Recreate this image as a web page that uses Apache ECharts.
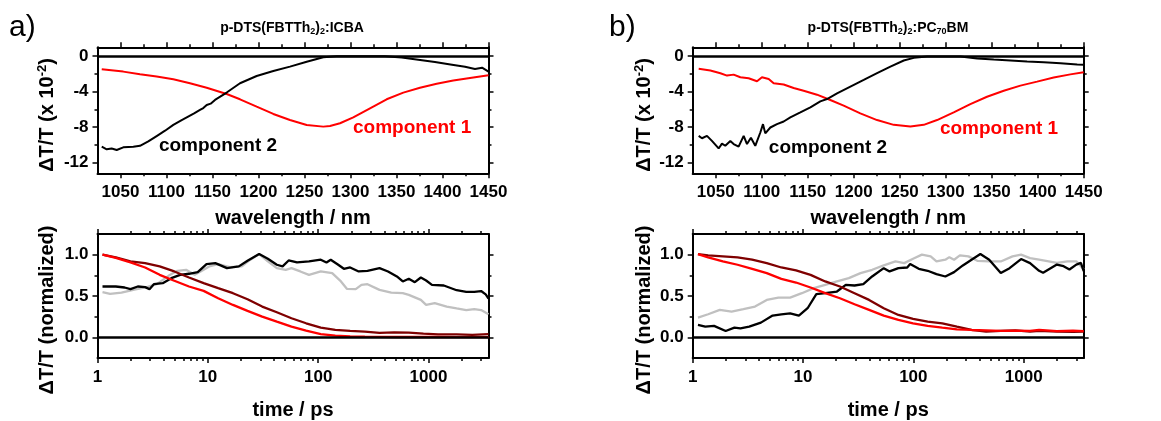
<!DOCTYPE html>
<html><head><meta charset="utf-8">
<script src="https://cdn.jsdelivr.net/npm/echarts@6.0.0/dist/echarts.min.js"></script>
<style>html,body{margin:0;padding:0;background:#fff}#c{width:1161px;height:421px}</style>
</head><body><div id="c"></div>
<script>
// ---------- DATA ----------
// panel a) spectra (wavelength nm, dT/T x 1e-2)
const wlA_comp1 = [1029.6,1053,1071.2,1089.3,1107.4,1125.5,1143.7,1165.4,1179.9,1198,1216.1,1234.2,1252.4,1270.4,1277.7,1288.6,1303,1321.2,1339.3,1357.4,1375.5,1393.7,1411.7,1429.9,1450];
const dA_comp1  = [-1.48,-1.74,-2.04,-2.3,-2.6,-3.05,-3.55,-4.26,-4.86,-5.69,-6.51,-7.19,-7.75,-7.94,-7.86,-7.56,-6.89,-5.87,-4.86,-4.11,-3.55,-3.1,-2.75,-2.45,-2.15];
const wlA_comp2 = [1029.6,1035,1040.4,1045.9,1053,1063.9,1071.2,1080.2,1089.3,1098.4,1107.4,1116.5,1121,1125.5,1130,1136.4,1140,1143.7,1148,1152.7,1165.4,1179.9,1198,1216.1,1234.2,1252.4,1270.4,1285,1301.3,1320,1337.5,1355.7,1373.7,1391.8,1410.3,1424.5,1435.3,1443,1450];
const dA_comp2  = [-10.2,-10.5,-10.4,-10.57,-10.27,-10.2,-10.1,-9.6,-9.0,-8.4,-7.75,-7.2,-6.95,-6.7,-6.45,-6.06,-5.85,-5.5,-5.35,-4.93,-4.1,-3.05,-2.23,-1.67,-1.18,-0.62,-0.13,0,0,0,-0.02,-0.16,-0.4,-0.65,-0.96,-1.2,-1.45,-1.3,-1.75];
// panel b) spectra
const wlB_comp1 = [1031.5,1044.2,1055.1,1062.3,1069.5,1076.8,1085.8,1094.9,1100.3,1107.6,1113,1123.9,1134.7,1145.6,1160.1,1174.6,1189.1,1207.2,1225.4,1243.5,1261.6,1276.1,1290.6,1308.7,1326.8,1344.9,1363.1,1381.2,1399.3,1417.4,1435.5,1450];
const dB_comp1  = [-1.43,-1.62,-1.92,-2.19,-2.08,-2.38,-2.49,-2.83,-2.38,-2.57,-3.06,-3.2,-3.58,-3.89,-4.34,-4.94,-5.58,-6.45,-7.2,-7.74,-7.92,-7.74,-7.2,-6.34,-5.4,-4.57,-3.89,-3.32,-2.87,-2.4,-2.05,-1.8];
const wlB_comp2 = [1031.5,1035.1,1040.5,1045.9,1053.2,1056.8,1060.4,1065.9,1069.5,1074.9,1080.4,1084,1088.3,1093,1098.5,1101.4,1103.9,1109.4,1116.6,1123.9,1131.1,1142,1152.9,1163.7,1171,1181.9,1196.4,1210.9,1225.4,1239.9,1254.4,1265.3,1279.8,1297.9,1316,1334.2,1352.3,1370.4,1388.5,1406.6,1424.8,1442.9,1450];
const dB_comp2  = [-8.98,-9.25,-8.98,-9.55,-10.4,-9.85,-10.1,-9.55,-9.9,-10.2,-8.98,-9.9,-9.2,-10.1,-8.6,-7.66,-8.7,-8.04,-7.66,-7.36,-6.9,-6.34,-5.77,-5.09,-4.83,-4.19,-3.43,-2.68,-1.92,-1.17,-0.49,-0.19,-0.05,-0.05,-0.05,-0.26,-0.38,-0.49,-0.6,-0.68,-0.79,-0.94,-0.98];

// panel a) kinetics (time ps, normalized)
const tA_red = [1.11,1.465,1.99,2.70,3.66,4.97,6.75,9.16,12.4,16.9,22.9,31.1,42.2,57.3,77.8,105.6,143,195,265,360,500,800,1200,1800,2500,3500];
const vA_red = [1.0,0.96,0.906,0.845,0.756,0.684,0.615,0.562,0.473,0.392,0.32,0.251,0.19,0.129,0.081,0.04,0.02,0.012,0.008,0.005,0.004,0.004,0.004,0.003,0.003,0.002];
const tA_dark = [1.11,1.465,1.99,2.7,3.66,4.97,6.75,9.16,12.4,16.9,22.9,31.1,42.2,57.3,77.8,105.6,143,195,265,360,489,663,900,1222,1800,2500,3500];
const vA_dark = [1.0,0.967,0.918,0.898,0.858,0.797,0.724,0.655,0.595,0.534,0.461,0.372,0.303,0.231,0.17,0.117,0.089,0.077,0.069,0.053,0.061,0.057,0.045,0.036,0.035,0.03,0.04];
const tA_black = [1.11,1.465,1.76,1.99,2.32,2.7,2.96,3.24,3.9,4.67,5.61,6.75,8.1,9.73,11.7,14.9,19.1,22.9,29.2,35,42.2,47.6,54,64.3,82.6,105.6,119,130,152,171,195,233,280,360,430,517,585,663,752,853,952,1075,1377,1800,2200,2600,3000,3300,3500];
const vA_black = [0.615,0.615,0.603,0.583,0.615,0.607,0.583,0.643,0.655,0.716,0.756,0.769,0.789,0.886,0.898,0.837,0.858,0.926,1.007,0.951,0.878,0.858,0.93,0.906,0.918,0.939,0.906,0.939,0.878,0.829,0.845,0.797,0.805,0.837,0.797,0.736,0.676,0.708,0.667,0.724,0.688,0.635,0.627,0.57,0.55,0.55,0.56,0.52,0.47];
const tA_grey = [1.11,1.3,1.65,2.11,2.7,3.45,4.4,5.29,6.35,7.6,8.6,10.3,12.4,15.8,20.3,24.3,29.2,35,42.2,50.8,57.3,68.9,82.6,105.6,134,161,182,219,247,280,360,460,585,663,853,952,1140,1463,1800,2200,2600,3000,3500];
const vA_grey = [0.546,0.526,0.542,0.574,0.603,0.643,0.744,0.805,0.817,0.756,0.797,0.858,0.886,0.85,0.858,0.939,1.007,0.918,0.837,0.817,0.837,0.797,0.756,0.797,0.777,0.676,0.587,0.583,0.635,0.643,0.574,0.542,0.534,0.514,0.453,0.392,0.413,0.372,0.35,0.33,0.34,0.33,0.28];

// panel b) kinetics
const tB_red = [1.116,1.38,1.876,2.55,3.46,4.69,6.36,8.64,11.7,15.9,21.6,29.3,39.7,53.9,73.2,99.4,134.8,183,248,337,457,620,842,1142,1380,2000,2800,3500];
const vB_red = [1.007,0.967,0.918,0.878,0.829,0.777,0.708,0.663,0.603,0.534,0.473,0.40,0.332,0.263,0.21,0.17,0.138,0.117,0.097,0.089,0.085,0.077,0.081,0.077,0.089,0.075,0.08,0.075];
const tB_dark = [1.116,1.38,1.876,2.55,3.46,4.69,6.36,8.64,11.7,15.9,21.6,29.3,39.7,53.9,73.2,99.4,134.8,183,248,337,457,620,842,1142,1380,2000,2800,3500];
const vB_dark = [1.007,0.991,0.979,0.967,0.939,0.898,0.845,0.809,0.756,0.676,0.615,0.534,0.453,0.352,0.271,0.222,0.19,0.17,0.129,0.089,0.069,0.077,0.085,0.069,0.077,0.07,0.065,0.07];
const tB_black = [1.116,1.3,1.56,1.99,2.39,2.71,3.25,4.15,5.3,6.36,7.64,9.17,11.0,13.2,15.9,20.3,24.4,29.3,35.2,42.3,53.9,60.9,73.2,88,93.5,112,134.8,162,195,234,281,337,405,487,620,745,947,1142,1380,1500,2000,2300,2600,3000,3300,3500];
const vB_black = [0.15,0.129,0.138,0.077,0.117,0.109,0.129,0.178,0.263,0.279,0.291,0.263,0.352,0.522,0.534,0.554,0.635,0.627,0.643,0.736,0.837,0.797,0.837,0.845,0.886,0.829,0.805,0.765,0.736,0.789,0.87,0.939,1.007,0.939,0.777,0.837,0.947,0.898,0.805,0.78,0.88,0.86,0.82,0.88,0.9,0.8];
const tB_grey = [1.116,1.38,1.76,2.25,2.88,3.67,4.69,5.98,7.64,9.76,12.5,15.9,20.3,26,33.2,42.3,53.9,68.9,82.6,99.4,119.5,143.5,162,195,212,234,264,316,380,487,620,792,947,1142,1380,2000,2500,3000,3500];
const vB_grey = [0.239,0.279,0.332,0.311,0.34,0.372,0.453,0.481,0.481,0.534,0.595,0.635,0.676,0.716,0.777,0.817,0.87,0.918,0.898,0.951,1.0,0.979,0.918,0.939,0.97,0.939,0.991,0.979,0.926,0.918,0.918,0.979,1.0,0.959,0.939,0.9,0.92,0.92,0.82];

// ticks
const wlLabels = [1050,1100,1150,1200,1250,1300,1350,1400,1450];
const wlMinor = [1075,1125,1175,1225,1275,1325,1375,1425];
const specLabels = [-12,-8,-4,0];
const specMinor = [-10,-6,-2];
const timeLabels = [1,10,100,1000];
const timeMinor = [2,3,4,5,6,7,8,9,20,30,40,50,60,70,80,90,200,300,400,500,600,700,800,900,2000,3000];
const normLabels = [0,0.5,1.0];
const normMinor = [0.25,0.75];

// ---------- CHART ----------
const FONT = '"Liberation Sans", Arial, Helvetica, sans-serif';
const RED = '#ff0000', DARK = '#7f0000', GREY = '#c0c0c0', BLACK = '#000000';
const xAxes = [], yAxes = [], series = [];
const TMAX = 3500, LTMAX = Math.log10(TMAX);

function ax(grid, pos, min, max, ticks, len, line, labels, fmt, name, nameGap) {
  return {
    type: 'value', gridIndex: grid, position: pos, min: min, max: max,
    axisLine: {show: line, onZero: false, lineStyle: {color: '#000', width: 2}},
    axisTick: {show: true, inside: false, length: len, customValues: ticks, lineStyle: {color: '#000', width: 1.5}},
    axisLabel: labels ? {show: true, customValues: labels, formatter: fmt, color: '#000', fontFamily: FONT,
      fontSize: 17, fontWeight: 'bold', margin: (pos === 'bottom') ? 11 : 9} : {show: false},
    splitLine: {show: false},
    name: name || '', nameLocation: 'middle', nameGap: nameGap || 0,
    nameTextStyle: {color: '#000', fontFamily: FONT, fontSize: 20, fontWeight: 'bold'}
  };
}
function push(list, o) { list.push(o); return list.length - 1; }

const grids = [
  {left: 97.5, top: 47.3, width: 391, height: 126},
  {left: 692.7, top: 47.3, width: 391, height: 126},
  {left: 97.5, top: 234, width: 391, height: 124},
  {left: 692.7, top: 234, width: 391, height: 124}
];

function specPanel(g, lines, notes) {
  const xi = push(xAxes, ax(g, 'bottom', 1025, 1450, wlLabels, 5, true, wlLabels, v => String(v), 'wavelength / nm', 35));
  push(xAxes, ax(g, 'bottom', 1025, 1450, wlMinor, 3, false));
  push(xAxes, ax(g, 'top', 1025, 1450, wlLabels, 5, true));
  push(xAxes, ax(g, 'top', 1025, 1450, wlMinor, 3, false));
  const yi = push(yAxes, ax(g, 'left', -13.2, 1, specLabels, 5, true, specLabels, v => String(v)));
  push(yAxes, ax(g, 'left', -13.2, 1, specMinor, 3, false));
  push(yAxes, ax(g, 'right', -13.2, 1, specLabels, 5, true));
  push(yAxes, ax(g, 'right', -13.2, 1, specMinor, 3, false));
  lines.forEach((l, i) => {
    const s = {
      type: 'line', xAxisIndex: xi, yAxisIndex: yi, showSymbol: false, symbol: 'none',
      lineStyle: {color: l.color, width: 2}, data: l.x.map((v, k) => [v, l.y[k]]), z: 3,
      markPoint: {symbol: 'circle', symbolSize: 1, itemStyle: {color: 'rgba(0,0,0,0)'},
        data: [{coord: notes[i].at, label: {show: true, position: 'inside', formatter: notes[i].text,
          color: l.color, fontFamily: FONT, fontSize: 19, fontWeight: 'bold'}}]}
    };
    if (i === 0) s.markLine = {silent: true, symbol: ['none', 'none'], label: {show: false},
      lineStyle: {color: '#000', width: 2.5, type: 'solid'}, data: [{yAxis: 0}]};
    series.push(s);
  });
}

function kinPanel(g, lines) {
  const xl = push(xAxes, {type: 'log', logBase: 10, gridIndex: g, min: 1, max: TMAX, show: false});
  const lg = v => Math.log10(v);
  push(xAxes, ax(g, 'bottom', 0, LTMAX, timeLabels.map(lg), 5, true, timeLabels.map(lg),
    v => String(Math.round(Math.pow(10, v))), 'time / ps', 42));
  push(xAxes, ax(g, 'bottom', 0, LTMAX, timeMinor.map(lg), 3, false));
  push(xAxes, ax(g, 'top', 0, LTMAX, timeLabels.map(lg), 5, true));
  push(xAxes, ax(g, 'top', 0, LTMAX, timeMinor.map(lg), 3, false));
  const yi = push(yAxes, ax(g, 'left', -0.25, 1.25, normLabels, 5, true, normLabels, v => v.toFixed(1)));
  push(yAxes, ax(g, 'left', -0.25, 1.25, normMinor, 3, false));
  push(yAxes, ax(g, 'right', -0.25, 1.25, normLabels, 5, true));
  push(yAxes, ax(g, 'right', -0.25, 1.25, normMinor, 3, false));
  lines.forEach((l, i) => {
    const s = {
      type: 'line', xAxisIndex: xl, yAxisIndex: yi, showSymbol: false, symbol: 'none',
      lineStyle: {color: l.color, width: 2.3}, data: l.x.map((v, k) => [v, l.y[k]]), z: 3
    };
    if (i === 0) s.markLine = {silent: true, symbol: ['none', 'none'], label: {show: false},
      lineStyle: {color: '#000', width: 2.5, type: 'solid'}, data: [{yAxis: 0}]};
    series.push(s);
  });
}

specPanel(0, [
  {x: wlA_comp1, y: dA_comp1, color: RED},
  {x: wlA_comp2, y: dA_comp2, color: BLACK}
], [{at: [1367, -8.03], text: 'component 1'}, {at: [1156, -10.06], text: 'component 2'}]);
specPanel(1, [
  {x: wlB_comp1, y: dB_comp1, color: RED},
  {x: wlB_comp2, y: dB_comp2, color: BLACK}
], [{at: [1358, -8.2], text: 'component 1'}, {at: [1172, -10.37], text: 'component 2'}]);
kinPanel(2, [
  {x: tA_grey, y: vA_grey, color: GREY},
  {x: tA_black, y: vA_black, color: BLACK},
  {x: tA_dark, y: vA_dark, color: DARK},
  {x: tA_red, y: vA_red, color: RED}
]);
kinPanel(3, [
  {x: tB_grey, y: vB_grey, color: GREY},
  {x: tB_black, y: vB_black, color: BLACK},
  {x: tB_dark, y: vB_dark, color: DARK},
  {x: tB_red, y: vB_red, color: RED}
]);

const richB = {fontFamily: FONT, fontSize: 14, fontWeight: 'bold', color: '#000'};
const richS = {fontFamily: FONT, fontSize: 9, fontWeight: 'bold', color: '#000', padding: [7, 0, 0, 0]};
const nameB = {fontFamily: FONT, fontSize: 20, fontWeight: 'bold', color: '#000'};
const nameP = {fontFamily: FONT, fontSize: 13, fontWeight: 'bold', color: '#000', padding: [0, 0, 10, 0]};
function yName(x, y, text) {
  return {type: 'text', x: x, y: y, rotation: Math.PI / 2,
    style: {text: text, align: 'center', verticalAlign: 'middle', rich: {b: nameB, p: nameP}}};
}
const graphic = [
  {type: 'text', x: 9, y: 28, style: {text: 'a)', fontFamily: FONT, fontSize: 30, fill: '#000', verticalAlign: 'middle'}},
  {type: 'text', x: 609, y: 28, style: {text: 'b)', fontFamily: FONT, fontSize: 30, fill: '#000', verticalAlign: 'middle'}},
  {type: 'text', x: 292, y: 28, style: {text: '{b|p-DTS(FBTTh}{s|2}{b|)}{s|2}{b|:ICBA}', align: 'center', verticalAlign: 'middle', rich: {b: richB, s: richS}}},
  {type: 'text', x: 888, y: 28, style: {text: '{b|p-DTS(FBTTh}{s|2}{b|)}{s|2}{b|:PC}{s|70}{b|BM}', align: 'center', verticalAlign: 'middle', rich: {b: richB, s: richS}}},
  yName(47, 115, '{b|ΔT/T (x 10}{p|-2}{b|)}'),
  yName(47, 310, '{b|ΔT/T (normalized)}'),
  yName(644, 115, '{b|ΔT/T (x 10}{p|-2}{b|)}'),
  yName(644, 310, '{b|ΔT/T (normalized)}')
];

const chart = echarts.init(document.getElementById('c'), null, {renderer: 'canvas'});
chart.setOption({
  animation: false,
  backgroundColor: '#fff',
  grid: grids,
  xAxis: xAxes,
  yAxis: yAxes,
  series: series,
  graphic: graphic
});
</script></body></html>
